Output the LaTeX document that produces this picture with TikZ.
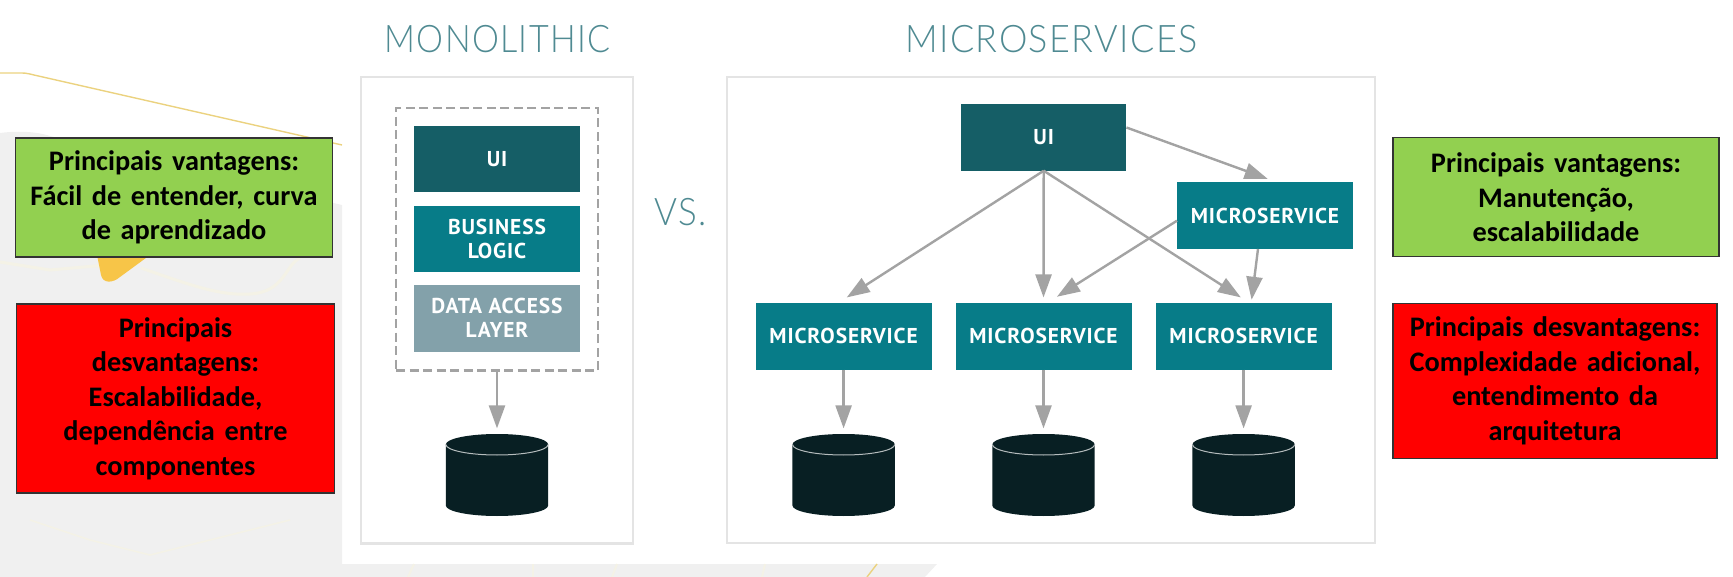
\documentclass[tikz,border=0pt]{standalone}
\usepackage{fontspec}
\usepackage{graphicx}
\usepackage{tikz}
\usetikzlibrary{arrows.meta}
\setmainfont[WordSpace=1.5]{Carlito}
\newfontfamily\titlefont[LetterSpace=4]{Lato Light}
\newfontfamily\boxfont[LetterSpace=4]{PT Sans}
\definecolor{uicol}{HTML}{155E66}
\definecolor{bizcol}{HTML}{077C88}
\definecolor{datacol}{HTML}{83A1AA}
\definecolor{dbcol}{HTML}{081F23}
\definecolor{titlecol}{HTML}{4F8A92}
\definecolor{arrowcol}{HTML}{A3A3A3}
\definecolor{framecol}{HTML}{E4E4E4}
\definecolor{mapcol}{HTML}{F0F0F0}
\definecolor{roadcol}{HTML}{F4F2E6}
\definecolor{goodcol}{HTML}{92D050}
\definecolor{pincol}{HTML}{F7C548}
\definecolor{pathcol}{HTML}{EBD27F}
\tikzset{
  svcbox/.style={fill=#1,draw=none,inner sep=0,outer sep=0,minimum height=66.5pt,text=white,align=center,
    font=\boxfont\bfseries\fontsize{21.5}{24}\selectfont},
  frame/.style={draw=framecol,line width=2.4pt,fill=white,inner sep=0,outer sep=0},
  notebox/.style={fill=#1,draw=black!80,line width=1.4pt,inner sep=0,outer sep=0,align=center,
    font=\bfseries\fontsize{28.3}{34.5}\selectfont},
  bigtitle/.style={text=titlecol,inner sep=0,font=\titlefont\fontsize{38}{40}\selectfont},
  dbbase/.style={inner sep=0,outer sep=0,minimum width=102.3pt,minimum height=82pt},
  dblid/.style={draw=white!70!dbcol,line width=1pt},
  flow/.style={draw=arrowcol,line width=2.4pt,-{Triangle[length=23pt,width=16pt]},shorten >=5.6pt},
  road/.style={draw=roadcol,line width=3pt}
}
\newcommand{\dbdrum}[2]{
  \node[dbbase] (#1) at (#2,475) {};
  \fill[dbcol] ([yshift=-10.5pt]#1.north west) arc[start angle=180,end angle=0,x radius=51.15pt,y radius=10.5pt]
    -- ([yshift=10.5pt]#1.south east) arc[start angle=0,end angle=-180,x radius=51.15pt,y radius=10.5pt] -- cycle;
  \draw[dblid] ([yshift=-10.5pt]#1.north west) arc[start angle=180,end angle=360,x radius=51.15pt,y radius=10.5pt];
}
\begin{document}
\begin{tikzpicture}[x=1pt,y=-1pt]
  \useasboundingbox (0,0) rectangle (1733,577);
  % map behind the slide
  \fill[mapcol] (0,133) .. controls (15,131) and (35,131) .. (50,136) -- (342,205) -- (342,564) -- (937,564) -- (925,577) -- (0,577) -- cycle;
  \draw[road] (0,262) -- (50,270) -- (140,262);
  \draw[road] (141,268) .. controls (190,285) and (220,296) .. (250,294) .. controls (285,292) and (285,265) .. (300,258);
  \draw[road,line width=1.5pt] (30,520) -- (90,540) -- (150,555) -- (290,520);
  \draw[road,line width=2pt] (414,564) -- (408,577);
  \draw[road,line width=2pt] (533,564) -- (533,577);
  \draw[road,line width=2pt] (617,564) -- (612,577);
  \draw[road,line width=2pt] (765,564) -- (762,577);
  \fill[pincol] (97,255) -- (101,275) .. controls (103,284) and (113,283) .. (120,277) -- (150,255) -- cycle;
  \draw[pathcol,line width=1.4pt] (0,73) -- (22,73) .. controls (26,73) and (30,74) .. (34,75) -- (342,145);
  \draw[pathcol,line width=1.4pt] (877,564) -- (867,577);

  % the two notes on the left
  \node[notebox=goodcol,minimum width=317pt,minimum height=119pt] (goodA) at (174,197.5) {Principais vantagens:\\Fácil de entender, curva\\de aprendizado};
  \node[notebox=red,minimum width=318pt,minimum height=189pt] (badA) at (175.5,398.5) {Principais\\desvantagens:\\Escalabilidade,\\dependência entre\\componentes};

  % monolithic
  \node[bigtitle] (monoT) at (497.5,39.5) {\scalebox{.895}[1]{MONOLITHIC}};
  \node[frame,minimum width=272pt,minimum height=466.5pt] (monoF) at (497,310.3) {};
  \node[draw=arrowcol,dashed,line width=2.2pt,dash pattern=on 9pt off 4.5pt,inner sep=0,outer sep=0,minimum width=202pt,minimum height=262.5pt] (monoD) at (497,239.3) {};
  \node[svcbox=uicol,minimum width=165.3pt] (monoU) at (497,159.2) {UI};
  \node[svcbox=bizcol,minimum width=165.3pt] (monoB) at (497,239) {BUSINESS\\LOGIC};
  \node[svcbox=datacol,minimum width=165.3pt] (monoL) at (497,318.3) {DATA ACCESS\\LAYER};
  \dbdrum{monoC}{497}
  \draw[flow] (monoD.south) -- (monoC.north);

  \node[bigtitle] (vsT) at (681,212) {\scalebox{.92}[1]{VS.}};

  % microservices
  \node[bigtitle] (microT) at (1051.5,39.5) {\scalebox{.946}[1]{MICROSERVICES}};
  \node[frame,minimum width=648pt,minimum height=466.5pt] (microF) at (1051,310) {};
  \node[svcbox=uicol,minimum width=165.5pt] (ui) at (1043.7,137.5) {UI};
  \node[svcbox=bizcol,minimum width=176pt] (svcR) at (1265,215.7) {MICROSERVICE};
  \node[svcbox=bizcol,minimum width=176pt] (svcA) at (843.6,336.3) {MICROSERVICE};
  \node[svcbox=bizcol,minimum width=176pt] (svcB) at (1043.5,336.3) {MICROSERVICE};
  \node[svcbox=bizcol,minimum width=176pt] (svcC) at (1243.6,336.3) {MICROSERVICE};
  \dbdrum{dbA}{843.6}
  \dbdrum{dbB}{1043.5}
  \dbdrum{dbC}{1243.6}
  \draw[flow,shorten >=10.4pt] (ui.south) -- ([xshift=-5.6pt]svcA.north);
  \draw[flow] (ui.south) -- (svcB.north);
  \draw[flow,shorten >=10.4pt] (ui.south) -- ([xshift=6pt]svcC.north);
  \draw[flow,shorten >=10.6pt] ([yshift=10pt]ui.east) -- ([xshift=12.6pt]svcR.north);
  \draw[flow,shorten >=11.8pt] ([yshift=-5pt]svcR.west) -- ([xshift=3.5pt]svcB.north);
  \draw[flow,shorten >=3.3pt] ([xshift=-7pt]svcR.south) -- ([xshift=7.6pt]svcC.north);
  \draw[flow] (svcA.south) -- (dbA.north);
  \draw[flow] (svcB.south) -- (dbB.north);
  \draw[flow] (svcC.south) -- (dbC.north);

  % the two notes on the right
  \node[notebox=goodcol,minimum width=326pt,minimum height=119pt] (goodB) at (1556,197.2) {Principais vantagens:\\Manutenção,\\escalabilidade};
  \node[notebox=red,minimum width=324pt,minimum height=155pt] (badB) at (1555,380.8) {Principais desvantagens:\\Complexidade adicional,\\entendimento da\\arquitetura};
\end{tikzpicture}
\end{document}
